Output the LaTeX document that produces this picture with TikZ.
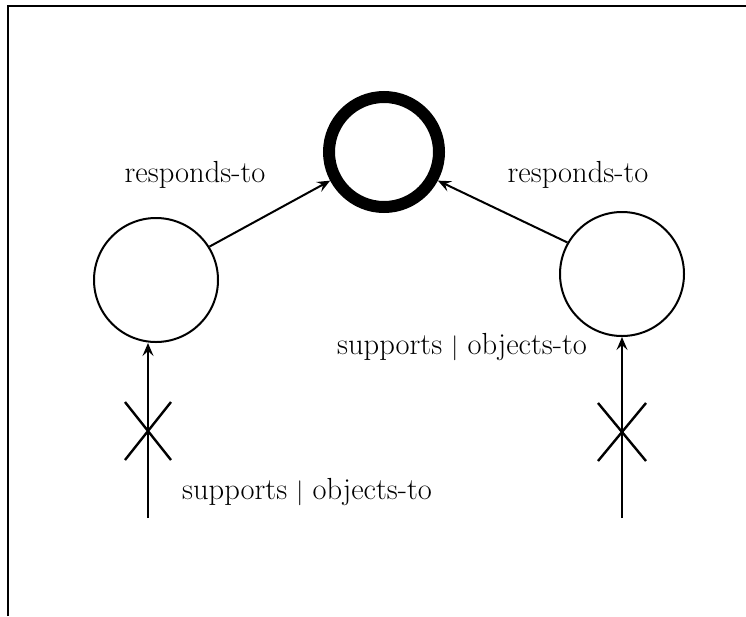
\documentclass[tikz,border=0pt]{standalone}
\usetikzlibrary{arrows.meta,calc}
\begin{document}
\begin{tikzpicture}[x=1pt,y=-1pt,
  thin node/.style={circle,draw,line width=2pt,inner sep=0pt,minimum size=124pt},
  thick node/.style={circle,draw,line width=12pt,inner sep=0pt,minimum size=110pt},
  link/.style={line width=2pt,-{Stealth[length=13pt,width=11pt,inset=5pt]}},
  cross/.style={line width=2.4pt},
  lbl/.style={font=\fontsize{30.5}{36}\selectfont,inner sep=0pt}]
\useasboundingbox (0,0) rectangle (746,616);
% frame: left and top edges
\draw[line width=2pt] (8,616) -- (8,6) -- (746,6);

% nodes
\node[thick node] (top) at (384,152) {};
\node[thin node] (left) at (156,280) {};
\node[thin node] (right) at (622,274) {};

% responds-to links
\draw[link] (left.32) -- (top.208);
\draw[link] (right.150) -- (top.332);
\node[lbl] (rl) at (195,175) {responds-to};
\node[lbl] (rr) at (578,175) {responds-to};

% supports / objects-to links with a cross
\coordinate (ls) at (148,518);
\coordinate (rs) at (622,518);
\draw[link] (ls) -- (left.south -| ls);
\draw[link] (rs) -- (right.south);
\coordinate (lx) at (148,431);
\coordinate (rx) at (622,432);
\draw[cross] ($(lx)+(-23,-29)$) -- ($(lx)+(23,29)$);
\draw[cross] ($(lx)+(23,-29)$) -- ($(lx)+(-23,29)$);
\draw[cross] ($(rx)+(-24,-29)$) -- ($(rx)+(24,29)$);
\draw[cross] ($(rx)+(24,-29)$) -- ($(rx)+(-24,29)$);
\node[lbl] (sl) at (307,492) {supports $|$ objects-to};
\node[lbl] (sr) at (462,347) {supports $|$ objects-to};
\end{tikzpicture}
\end{document}
